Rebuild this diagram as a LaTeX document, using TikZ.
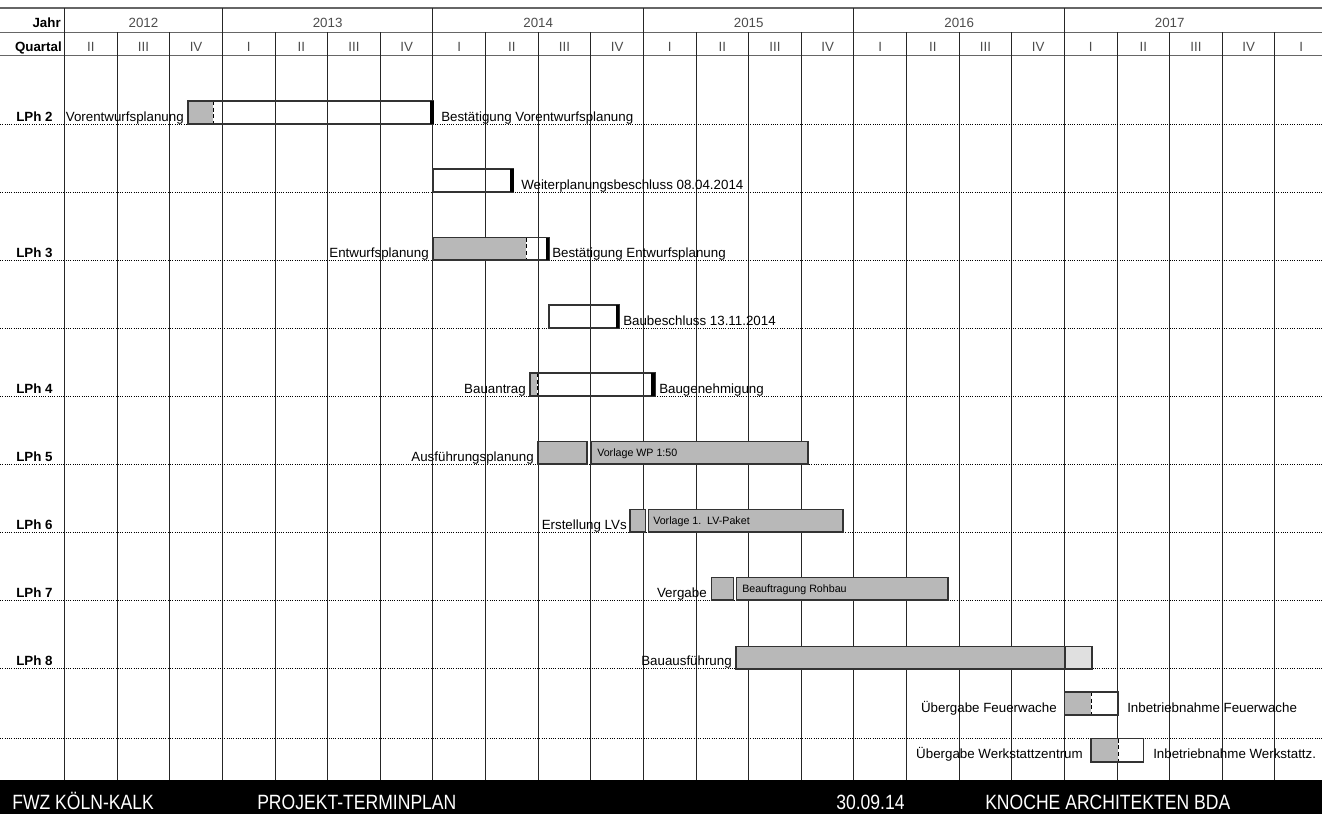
\documentclass[tikz,border=0pt]{standalone}
\usepackage{fontspec}
\setmainfont{Liberation Sans}
\newfontfamily\footfont[FakeStretch=0.85]{Liberation Sans}
\usetikzlibrary{positioning}

\begin{document}
\begin{tikzpicture}[x=0.75pt, y=-0.75pt,
    every node/.style={inner sep=0pt, font=\fontsize{10}{12}\selectfont},
    head/.style={text=black!70},
    phase/.style={font=\fontsize{10}{12}\selectfont\bfseries},
    small/.style={font=\fontsize{8}{10}\selectfont},
    foot/.style={text=white, font=\footfont\fontsize{15.5}{18}\selectfont},
    gridline/.style={line width=0.9pt, black!85},
    headline/.style={line width=1pt, black!60},
    rowline/.style={densely dotted, line width=0.7pt},
    bar/.style={draw=black!80, line width=0.8pt},
    split/.style={densely dashed, line width=0.6pt},
    donefill/.style={fill=black!28},
    restfill/.style={fill=black!12},
    milestone/.style={fill=black}
]
\useasboundingbox (0,0) rectangle (1322,814);

% header rows
\draw[headline, line width=1.6pt] (0,8) -- (1322,8);
\draw[headline] (0,32.5) -- (1322,32.5);
\draw[headline] (0,55.5) -- (1322,55.5);
\node[phase, anchor=base east] (jahr)    at (61,27) {Jahr};
\node[phase, anchor=base east] (quartal) at (62,51) {Quartal};
\foreach \k/\yr in {1.5/2012,5/2013,9/2014,13/2015,17/2016,21/2017}
  \node[head, anchor=base] (y\yr) at ({64.5+52.63*\k},27) {\yr};
\foreach \k/\q in {0/II,1/III,2/IV,3/I,4/II,5/III,6/IV,7/I,8/II,9/III,10/IV,11/I,
    12/II,13/III,14/IV,15/I,16/II,17/III,18/IV,19/I,20/II,21/III,22/IV,23/I}
  \node[head, anchor=base] (q\k) at ({64.5+52.63*(\k+0.5)},51) {\q};

% grid
\foreach \k in {0,3,7,11,15,19}
  \draw[gridline] ({floor(64.5+52.63*\k)+0.5},8) -- ({floor(64.5+52.63*\k)+0.5},32);
\foreach \k in {0,...,23}
  \draw[gridline] ({floor(64.5+52.63*\k)+0.5},32) -- ({floor(64.5+52.63*\k)+0.5},780);
\foreach \y in {124,192,260,328,396,464,532,600,668,738}
  \draw[rowline] (0,\y) -- (1322,\y);

% phase labels
\node[phase, anchor=base west] (lph2) at (16,121) {LPh 2};
\node[phase, anchor=base west] (lph3) at (16,257) {LPh 3};
\node[phase, anchor=base west] (lph4) at (16,393) {LPh 4};
\node[phase, anchor=base west] (lph5) at (16,461) {LPh 5};
\node[phase, anchor=base west] (lph6) at (16,529) {LPh 6};
\node[phase, anchor=base west] (lph7) at (16,597) {LPh 7};
\node[phase, anchor=base west] (lph8) at (16,665) {LPh 8};

% LPh 2
\fill[donefill] (188,101) rectangle (213,124);
\draw[split] (213,101) -- (213,124);
\draw[bar] (188,101) rectangle (433,124);
\fill[milestone] (430,101) rectangle (433.5,124);
\node[anchor=base east] (vorentwurf) at (184,121) {Vorentwurfsplanung};
\node[anchor=base west] (bestvor) at (441,121) {Bestätigung Vorentwurfsplanung};

% Weiterplanung
\draw[bar] (433,169) rectangle (513,192);
\fill[milestone] (510,169) rectangle (513.5,192);
\node[anchor=base west] (weiter) at (521,189) {Weiterplanungsbeschluss 08.04.2014};

% LPh 3
\fill[donefill] (433,237.5) rectangle (526,260);
\draw[split] (526,237.5) -- (526,260);
\draw[bar] (433,237.5) rectangle (549,260);
\fill[milestone] (545.5,237.5) rectangle (549,260);
\node[anchor=base east] (entwurf) at (429,257) {Entwurfsplanung};
\node[anchor=base west] (bestent) at (552,257) {Bestätigung Entwurfsplanung};

% Baubeschluss
\draw[bar] (549,305) rectangle (619,328);
\fill[milestone] (615.5,305) rectangle (619,328);
\node[anchor=base west] (baubeschluss) at (623,325) {Baubeschluss 13.11.2014};

% LPh 4
\fill[donefill] (530,373) rectangle (537,396);
\draw[split] (537,373) -- (537,396);
\draw[bar] (530,373) rectangle (655,396);
\fill[milestone] (651,373) rectangle (655,396);
\node[anchor=base east] (bauantrag) at (526,393) {Bauantrag};
\node[anchor=base west] (baugen) at (659,393) {Baugenehmigung};

% LPh 5
\draw[bar, donefill] (538,441.5) rectangle (587,464);
\draw[bar, donefill] (591,441.5) rectangle (808,464);
\node[anchor=base east] (ausf) at (534,461) {Ausführungsplanung};
\node[small, anchor=base west] (wp) at (597,456) {Vorlage WP 1:50};

% LPh 6
\draw[bar, donefill] (630,509.5) rectangle (645.5,532);
\draw[bar, donefill] (648.5,509.5) rectangle (843,532);
\node[anchor=base east] (lvs) at (627,529) {Erstellung LVs};
\node[small, anchor=base west] (lvpaket) at (653,524) {Vorlage 1.\ \ LV-Paket};

% LPh 7
\draw[bar, donefill] (711.5,577.5) rectangle (733.5,600);
\draw[bar, donefill] (736.5,577.5) rectangle (948,600);
\node[anchor=base east] (vergabe) at (707,597) {Vergabe};
\node[small, anchor=base west] (rohbau) at (742,592) {Beauftragung Rohbau};

% LPh 8
\draw[bar, donefill] (736,646.5) rectangle (1065,669);
\draw[bar, restfill] (1065,646.5) rectangle (1092,669);
\node[anchor=base east] (bauausf) at (732,665) {Bauausführung};

% Uebergabe
\fill[donefill] (1064.5,692) rectangle (1091,715);
\draw[split] (1091,692) -- (1091,715);
\draw[bar] (1064.5,692) rectangle (1118,715);
\node[anchor=base east] (uebfw) at (1057,712) {Übergabe Feuerwache};
\node[anchor=base west] (inbfw) at (1127,712) {Inbetriebnahme Feuerwache};

\fill[donefill] (1091,738.5) rectangle (1118,762);
\draw[split] (1118,738.5) -- (1118,762);
\draw[bar] (1091,738.5) rectangle (1143.5,762);
\node[anchor=base east] (uebwz) at (1083,758) {Übergabe Werkstattzentrum};
\node[anchor=base west] (inbwz) at (1153,758) {Inbetriebnahme Werkstattz.};

% footer
\fill[black] (0,780) rectangle (1322,814);
\node[foot, anchor=base west] (fwz)    at (12,809)  {FWZ KÖLN-KALK};
\node[foot, anchor=base west] (plan)   at (257,809) {PROJEKT-TERMINPLAN};
\node[foot, anchor=base west] (datum)  at (836,809) {30.09.14};
\node[foot, anchor=base west] (buero)  at (985,809) {KNOCHE ARCHITEKTEN BDA};
\end{tikzpicture}
\end{document}
